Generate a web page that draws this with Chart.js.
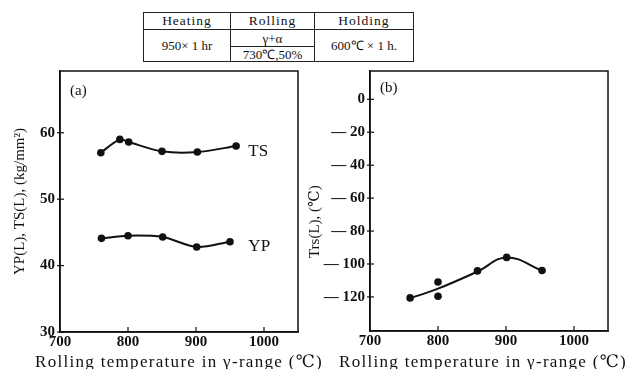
<!DOCTYPE html>
<html>
<head>
<meta charset="utf-8">
<script src="https://cdn.jsdelivr.net/npm/chart.js@4/dist/chart.umd.min.js"></script>
<style>
    body { margin: 0; background: #fff; }
    #wrap { position: relative; width: 628px; height: 369px; overflow: hidden; }
    #left { position: absolute; left: 0; top: 0; width: 330px; height: 369px; }
    #right { position: absolute; left: 306px; top: 0; width: 322px; height: 369px; }
    table.cond {
        position: absolute; left: 143px; top: 12px; width: 271px; height: 49px;
        border-collapse: collapse; font-family: "Liberation Serif", serif; font-size: 13px;
        color: #111; z-index: 2; background: #fff;
    }
    table.cond td { border: 1px solid #222; text-align: center; padding: 0; line-height: 1; }
    table.cond tr.head td { height: 16px; letter-spacing: 1px; font-size: 13.5px; }
</style>
</head>
<body>
<div id="wrap">
    <table class="cond">
        <tr class="head"><td style="width:86px">Heating</td><td style="width:83px">Rolling</td><td>Holding</td></tr>
        <tr><td rowspan="2">950× 1 hr</td><td style="height:16px">γ+α</td><td rowspan="2">600℃ × 1 h.</td></tr>
        <tr><td style="height:14px">730℃,50%</td></tr>
    </table>
    <canvas id="left" width="330" height="369"></canvas>
    <canvas id="right" width="322" height="369"></canvas>
</div>
<script>
// Panel (a): strength vs rolling temperature
const tsTemp = [760, 788, 801, 850, 902, 959];
const tsVal = [57.0, 59.0, 58.6, 57.2, 57.1, 58.0];
const ypTemp = [761, 800, 851, 901, 950];
const ypVal = [44.1, 44.5, 44.3, 42.8, 43.6];

// Panel (b): Trs vs rolling temperature
const trsTemp = [759, 800, 800, 858, 901, 953];
const trsVal = [-120.6, -110.9, -119.6, -104.2, -96.0, -104.0];
const trsFitTemp = [759, 800, 858, 901, 953];
const trsFitVal = [-120.8, -115.0, -104.6, -96.0, -104.0];

const xTicks = [700, 800, 900, 1000];
const strengthTicks = [30, 40, 50, 60];
const trsTicks = [0, -20, -40, -60, -80, -100, -120];

const FONT = "'Liberation Serif', 'DejaVu Serif', serif";
const INK = "#111";
const X_TITLE = "Rolling temperature in γ-range (℃)";

const toXY = (xs, ys) => xs.map((x, i) => ({ x, y: ys[i] }));

// frame, inward x ticks, crossing y ticks, x title and free text labels
const framePlugin = {
    id: "frame",
    afterDraw(chart, args, opts) {
        const { ctx, chartArea: a, scales } = chart;
        ctx.save();
        ctx.strokeStyle = INK;
        ctx.lineWidth = 1.5;
        ctx.strokeRect(a.left, a.top, a.right - a.left, a.bottom - a.top);
        ctx.lineWidth = 1.2;
        scales.x.ticks.forEach(t => {
            const px = scales.x.getPixelForValue(t.value);
            ctx.beginPath(); ctx.moveTo(px, a.bottom); ctx.lineTo(px, a.bottom - 5); ctx.stroke();
        });
        scales.y.ticks.forEach(t => {
            const py = scales.y.getPixelForValue(t.value);
            ctx.beginPath(); ctx.moveTo(a.left - 3, py); ctx.lineTo(a.left + 4, py); ctx.stroke();
        });
        ctx.fillStyle = INK;
        // x title drawn without width squeeze, letter-spaced like the print
        ctx.save();
        ctx.textAlign = "center";
        ctx.textBaseline = "alphabetic";
        ctx.font = "17px " + FONT;
        ctx.letterSpacing = "1.3px";
        ctx.fillText(X_TITLE, (a.left + a.right) / 2 + (opts.titleShift || 0), 367);
        ctx.restore();
        ctx.textBaseline = "middle";
        ctx.textAlign = "left";
        (opts.labels || []).forEach(l => {
            ctx.font = l.size + "px " + FONT;
            const px = l.px !== undefined ? a.left + l.px : scales.x.getPixelForValue(l.x);
            const py = l.py !== undefined ? a.top + l.py : scales.y.getPixelForValue(l.y);
            ctx.fillText(l.text, px, py);
        });
        ctx.restore();
    }
};

const tickFont = { family: FONT, size: 15, weight: "600" };

function xScale(height) {
    return {
        type: "linear", min: 700, max: 1050,
        afterFit: s => { s.height = height; },
        afterBuildTicks: s => { s.ticks = xTicks.map(v => ({ value: v })); },
        grid: { display: false, drawTicks: false },
        border: { display: true, color: INK, width: 1.5 },
        ticks: { color: INK, padding: 1, font: tickFont, callback: v => String(v) },
        title: { display: false }
    };
}

function yScale(min, max, ticks, width, title, titleSize, titlePad, fmt) {
    return {
        type: "linear", min, max,
        afterFit: s => { s.width = width; },
        afterBuildTicks: s => { s.ticks = ticks.map(v => ({ value: v })); },
        grid: { display: false, drawTicks: false },
        border: { display: true, color: INK, width: 1.5 },
        ticks: { color: INK, padding: 5, font: tickFont, callback: fmt },
        title: {
            display: true, text: title, color: INK,
            font: { family: FONT, size: titleSize, lineHeight: 1.2 }, padding: { top: titlePad, bottom: 0 }
        }
    };
}

const dotStyle = { pointRadius: 3.8, pointBackgroundColor: INK, pointBorderColor: INK, pointBorderWidth: 0 };

new Chart(document.getElementById("left"), {
    type: "scatter",
    data: {
        datasets: [
            { label: "TS", data: toXY(tsTemp, tsVal), showLine: true, borderColor: INK, borderWidth: 2, tension: 0.3, ...dotStyle },
            { label: "YP", data: toXY(ypTemp, ypVal), showLine: true, borderColor: INK, borderWidth: 2, tension: 0.3, ...dotStyle }
        ]
    },
    options: {
        responsive: false, animation: false,
        layout: { padding: { left: 0, top: 71, right: 32, bottom: 0 } },
        scales: {
            x: xScale(37),
            y: yScale(30, 69.3, strengthTicks, 60, "YP(L), TS(L), (kg/mm²)", 15, 11, v => String(v))
        },
        plugins: {
            legend: { display: false }, tooltip: { enabled: false },
            frame: {
                labels: [
                    { text: "TS", x: 977, y: 57.1, size: 17 },
                    { text: "YP", x: 977, y: 42.9, size: 17 },
                    { text: "(a)", px: 10, py: 20, size: 15 }
                ]
            }
        }
    },
    plugins: [framePlugin]
});

new Chart(document.getElementById("right"), {
    type: "scatter",
    data: {
        datasets: [
            { label: "Trs fit", data: toXY(trsFitTemp, trsFitVal), showLine: true, borderColor: INK, borderWidth: 2, tension: 0.4, pointRadius: 0 },
            { label: "Trs", data: toXY(trsTemp, trsVal), showLine: false, ...dotStyle }
        ]
    },
    options: {
        responsive: false, animation: false,
        layout: { padding: { left: 0, top: 71, right: 20, bottom: 0 } },
        scales: {
            x: xScale(38),
            y: yScale(-140.7, 17.2, trsTicks, 64, "Trs(L), (℃)" + "\u00A0".repeat(11), 15, 0,
                v => v < 0 ? "— " + Math.abs(v) : String(v))
        },
        plugins: {
            legend: { display: false }, tooltip: { enabled: false },
            frame: {
                titleShift: -6,
                labels: [
                    { text: "(b)", px: 10, py: 17, size: 15 }
                ]
            }
        }
    },
    plugins: [framePlugin]
});
</script>
</body>
</html>
